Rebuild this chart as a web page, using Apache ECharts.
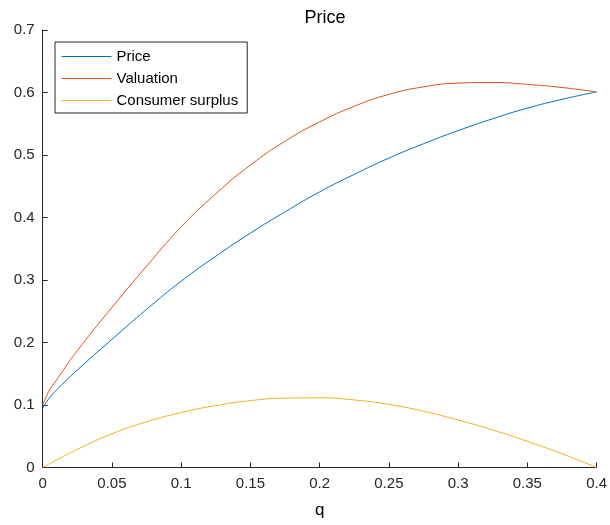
<!DOCTYPE html>
<html>
<head>
<meta charset="utf-8">
<script src="https://cdn.jsdelivr.net/npm/echarts@6/dist/echarts.min.js"></script>
<style>html,body{margin:0;padding:0;background:#fff;}#c{width:610px;height:525px;}</style>
</head>
<body>
<div id="c"></div>
<script>
var qValues =        [0,     0.005, 0.01,  0.025, 0.05,  0.075, 0.1,   0.125, 0.15,  0.175, 0.2,    0.225, 0.25,  0.275, 0.3,   0.325, 0.35,  0.375, 0.4];
var priceValues =    [0.095, 0.112, 0.124, 0.156, 0.205, 0.253, 0.298, 0.338, 0.375, 0.409, 0.441,  0.469, 0.495, 0.518, 0.539, 0.558, 0.575, 0.589, 0.601];
var valuationValues =[0.100, 0.124, 0.140, 0.187, 0.256, 0.322, 0.385, 0.438, 0.484, 0.522, 0.553,  0.578, 0.597, 0.609, 0.615, 0.616, 0.613, 0.608, 0.601];
var surplusValues =  [0,     0.006, 0.012, 0.029, 0.054, 0.073, 0.088, 0.099, 0.107, 0.111, 0.1115, 0.108, 0.101, 0.090, 0.076, 0.060, 0.042, 0.022, 0];
var seriesNames = ['Price', 'Valuation', 'Consumer surplus'];
var xTicks = {min: 0, max: 0.4, interval: 0.05};
var yTicks = {min: 0, max: 0.7, interval: 0.1};

function pairs(vals){ return qValues.map(function(q,i){ return [q, vals[i]]; }); }

var axisColor = '#262626';
var font = 'Liberation Sans, Arial, Helvetica, sans-serif';
var chart = echarts.init(document.getElementById('c'), null, {renderer:'canvas'});
var colors = ['#0072BD', '#D95319', '#EDB120'];
var datasets = [priceValues, valuationValues, surplusValues];
chart.setOption({
  animation: false,
  backgroundColor: '#fff',
  title: {text: 'Price', left: 320, top: 4, textAlign: 'center',
    textStyle: {fontFamily: font, fontSize: 18, fontWeight: 'normal', color: '#000'}},
  legend: {
    left: 55, top: 42, orient: 'vertical',
    data: seriesNames,
    itemWidth: 50, itemHeight: 14, itemGap: 7,
    padding: [7, 9, 5, 6],
    borderColor: axisColor, borderWidth: 1, backgroundColor: '#fff',
    itemStyle: {opacity: 0},
    lineStyle: {width: 1},
    textStyle: {fontFamily: font, fontSize: 15, color: '#000'}
  },
  grid: {left: 42.7, right: 12.6, top: 30, bottom: 57.5, containLabel: false},
  xAxis: {
    type: 'value', min: xTicks.min, max: xTicks.max, interval: xTicks.interval,
    name: 'q', nameLocation: 'middle', nameGap: 34,
    nameTextStyle: {fontFamily: font, fontSize: 17, color: '#000'},
    axisLine: {show: true, onZero: false, lineStyle: {color: axisColor, width: 1}},
    axisTick: {show: true, inside: true, length: 5, lineStyle: {color: axisColor}},
    axisLabel: {fontFamily: font, fontSize: 15, color: axisColor, margin: 9},
    splitLine: {show: false}
  },
  yAxis: {
    type: 'value', min: yTicks.min, max: yTicks.max, interval: yTicks.interval,
    axisLine: {show: true, onZero: false, lineStyle: {color: axisColor, width: 1}},
    axisTick: {show: true, inside: true, length: 5, lineStyle: {color: axisColor}},
    axisLabel: {fontFamily: font, fontSize: 15, color: axisColor, margin: 8},
    splitLine: {show: false}
  },
  series: seriesNames.map(function(n, i){
    return {
      name: n, type: 'line', data: pairs(datasets[i]),
      smooth: 0.5, symbol: 'none', showSymbol: false,
      lineStyle: {color: colors[i], width: 1},
      itemStyle: {color: colors[i]}
    };
  })
});
</script>
</body>
</html>
